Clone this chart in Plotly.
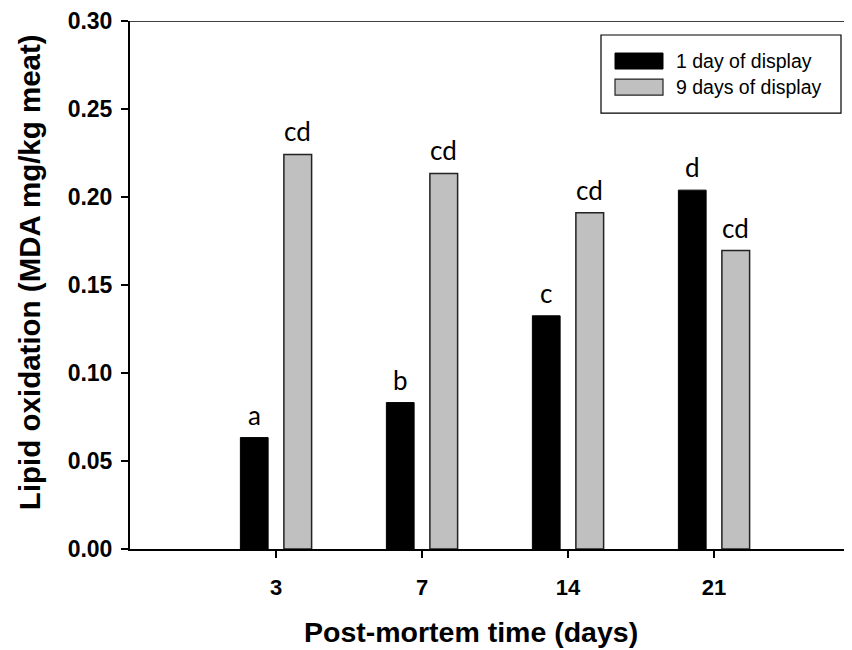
import plotly.graph_objects as go

categories = ["3", "7", "14", "21"]
one_day = [0.0633, 0.0832, 0.1325, 0.2039]
nine_days = [0.2242, 0.2134, 0.1910, 0.1696]
letters_one = ["a", "b", "c", "d"]
letters_nine = ["cd", "cd", "cd", "cd"]
series_names = ["1 day of display", "9 days of display"]

pos = [1, 2, 3, 4]
off = 0.149
w = 0.19

ARIAL = "Liberation Sans, Arial, sans-serif"
LETTER = "Lato, Open Sans, sans-serif"

fig = go.Figure()
fig.add_trace(go.Bar(
    x=[p - off for p in pos], y=one_day, width=w, name=series_names[0],
    marker=dict(color="black", line=dict(color="black", width=1)),
))
fig.add_trace(go.Bar(
    x=[p + off for p in pos], y=nine_days, width=w, name=series_names[1],
    marker=dict(color="#c0c0c0", line=dict(color="#222222", width=1.5)),
))

for p, v, t in zip(pos, one_day, letters_one):
    fig.add_annotation(x=p - off, y=v, text=t, showarrow=False, yanchor="bottom",
                       yshift=5, font=dict(family=LETTER, size=26, color="black"))
for p, v, t in zip(pos, nine_days, letters_nine):
    fig.add_annotation(x=p + off, y=v, text=t, showarrow=False, yanchor="bottom",
                       yshift=5, font=dict(family=LETTER, size=26, color="black"))

# top frame line
fig.add_shape(type="line", xref="paper", yref="y", x0=0, x1=1, y0=0.30, y1=0.30,
              line=dict(color="#404040", width=2))

# plot area in screen pixels: x 130..860, y 21..548.7
PX0, PW, PY1, PH = 130.0, 730.0, 548.7, 527.7
def px(x):
    return (x - PX0) / PW
def py(y):
    return (PY1 - y) / PH

# manual legend
fig.add_shape(type="rect", xref="paper", yref="paper",
              x0=px(601), x1=px(841), y0=py(113), y1=py(35),
              line=dict(color="black", width=1.2), fillcolor="white")
fig.add_shape(type="rect", xref="paper", yref="paper",
              x0=px(615), x1=px(663), y0=py(69), y1=py(53),
              line=dict(color="black", width=1), fillcolor="black")
fig.add_shape(type="rect", xref="paper", yref="paper",
              x0=px(615), x1=px(663), y0=py(95), y1=py(79),
              line=dict(color="#222222", width=1.2), fillcolor="#c0c0c0")
fig.add_annotation(xref="paper", yref="paper", x=px(674), y=py(61), text=series_names[0],
                   showarrow=False, xanchor="left", yanchor="middle",
                   font=dict(family=ARIAL, size=19.5, color="black"))
fig.add_annotation(xref="paper", yref="paper", x=px(674), y=py(87), text=series_names[1],
                   showarrow=False, xanchor="left", yanchor="middle",
                   font=dict(family=ARIAL, size=19.5, color="black"))

# axis titles
fig.add_annotation(xref="paper", yref="paper", x=px(471), y=py(632),
                   text="<b>Post-mortem time (days)</b>", showarrow=False,
                   xanchor="center", yanchor="middle",
                   font=dict(family=ARIAL, size=28.5, color="black"))
fig.add_annotation(xref="paper", yref="paper", x=px(29), y=py(272),
                   text="<b>Lipid oxidation (MDA mg/kg meat)</b>", showarrow=False,
                   textangle=-90, xanchor="center", yanchor="middle",
                   font=dict(family=ARIAL, size=29.5, color="black"))

fig.update_layout(
    width=852, height=650,
    margin=dict(l=122, r=0, t=13, b=109.3, autoexpand=False),
    plot_bgcolor="white", paper_bgcolor="white",
    barmode="overlay",
    showlegend=False,
    xaxis=dict(
        range=[0, 5],
        tickvals=pos, ticktext=categories,
        ticks="outside", ticklen=7, tickcolor="black", tickwidth=1.5,
        ticklabelstandoff=11,
        showline=True, linecolor="black", linewidth=2,
        showgrid=False, zeroline=False, automargin=False,
        tickfont=dict(family=ARIAL, size=22, color="black", weight="bold"),
    ),
    yaxis=dict(
        range=[0, 0.30], dtick=0.05, tickformat=".2f",
        ticks="outside", ticklen=7, tickcolor="black", tickwidth=1.5,
        ticklabelstandoff=4,
        showline=True, linecolor="black", linewidth=2,
        showgrid=False, zeroline=False, automargin=False,
        tickfont=dict(family=ARIAL, size=23, color="black", weight="bold"),
    ),
)

fig.write_html("out.html")
